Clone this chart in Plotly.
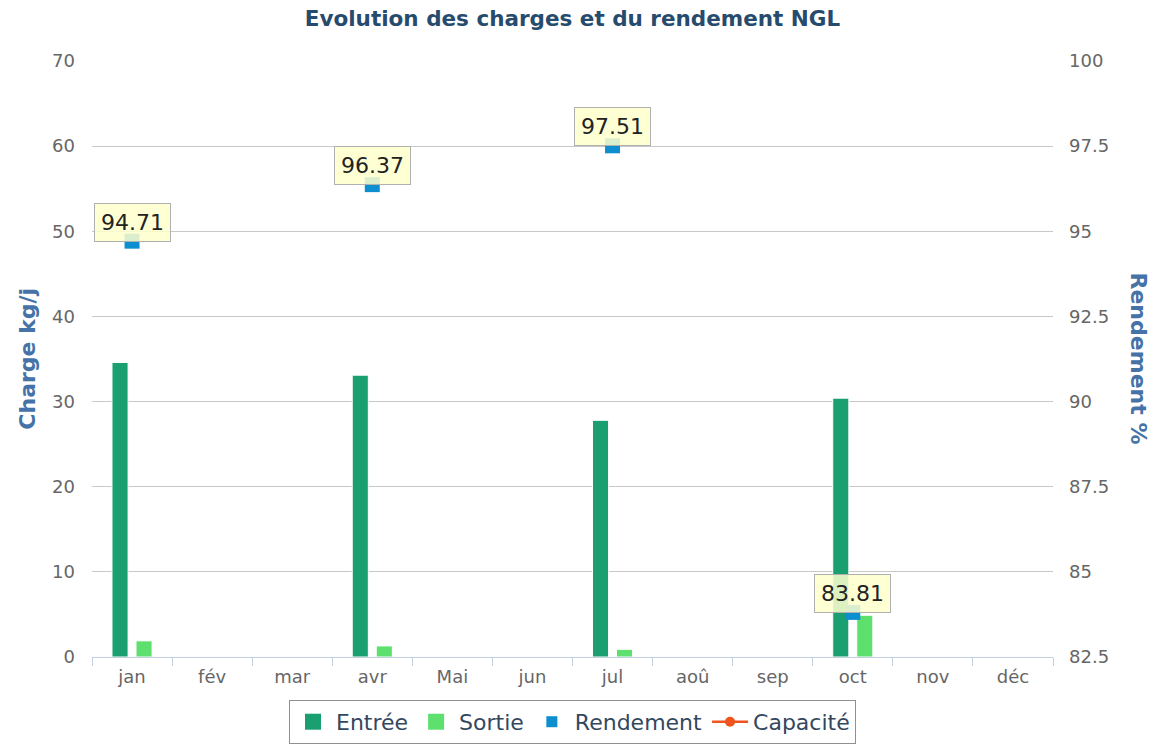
import plotly.graph_objects as go

months = ["jan", "fév", "mar", "avr", "Mai", "jun", "jul", "aoû", "sep", "oct", "nov", "déc"]
entree = [34.6, None, None, 33.1, None, None, 27.8, None, None, 30.4, None, None]
sortie = [1.9, None, None, 1.3, None, None, 0.9, None, None, 4.9, None, None]
rendement = [94.71, None, None, 96.37, None, None, 97.51, None, None, 83.81, None, None]
capacite = [None] * 12

FONT = "DejaVu Sans"
C_ENT, C_SOR, C_REN, C_CAP = "#1aa070", "#5de06e", "#0d8ecf", "#f0541e"

fig = go.Figure()
fig.add_trace(go.Bar(x=months, y=entree, name="Entrée", showlegend=False,
                     marker=dict(color=C_ENT, line=dict(color="white", width=1))))
fig.add_trace(go.Bar(x=months, y=sortie, name="Sortie", showlegend=False,
                     marker=dict(color=C_SOR, line=dict(color="white", width=1))))
fig.add_trace(go.Scatter(x=months, y=rendement, name="Rendement", yaxis="y2", mode="markers",
                         showlegend=False,
                         marker=dict(symbol="square", size=15, color=C_REN)))
# legend entries (Highcharts-style symbols)
empty = [None] * 12
fig.add_trace(go.Scatter(x=months, y=empty, name="Entrée", mode="markers",
                         marker=dict(symbol="square", size=21, color=C_ENT)))
fig.add_trace(go.Scatter(x=months, y=empty, name="Sortie", mode="markers",
                         marker=dict(symbol="square", size=21, color=C_SOR)))
fig.add_trace(go.Scatter(x=months, y=empty, name="Rendement", mode="markers",
                         marker=dict(symbol="square", size=11, color=C_REN)))
fig.add_trace(go.Scatter(x=months, y=capacite, name="Capacité", yaxis="y2", mode="lines+markers",
                         line=dict(color=C_CAP, width=2.5),
                         marker=dict(symbol="circle", size=10, color=C_CAP)))

for m, r in zip(months, rendement):
    if r is not None:
        fig.add_annotation(x=m, y=r, yref="y2", text=f"{r:.2f}", showarrow=False,
                           yshift=19, bgcolor="rgba(255,255,204,0.85)",
                           bordercolor="#b0b0b0", borderwidth=1, borderpad=6,
                           font=dict(family=FONT, size=22, color="#222222"))

fig.add_annotation(x=-0.068, xref="paper", y=0.5, yref="paper", xanchor="center", yanchor="middle",
                   text="<b>Charge kg/j</b>", textangle=-90, showarrow=False,
                   font=dict(family=FONT, size=22, color="#4572a7"))
fig.add_annotation(x=1.09, xref="paper", y=0.5, yref="paper", xanchor="center", yanchor="middle",
                   text="<b>Rendement %</b>", textangle=90, showarrow=False,
                   font=dict(family=FONT, size=22, color="#4572a7"))

fig.update_layout(
    width=1159, height=749,
    margin=dict(l=92, r=106, t=61, b=92, autoexpand=False),
    paper_bgcolor="white", plot_bgcolor="white",
    title=dict(text="<b>Evolution des charges et du rendement NGL</b>", x=0.5, xanchor="center",
               xref="paper", y=0.975, yref="container", yanchor="middle",
               font=dict(family=FONT, size=21.5, color="#274b6d")),
    font=dict(family=FONT, size=18, color="#666666"),
    barmode="group", bargap=0.4, bargroupgap=0.33,
    showlegend=True,
    legend=dict(orientation="h", x=0.5, xanchor="center", y=-0.072, yanchor="top",
                bordercolor="#909090", borderwidth=1, bgcolor="white",
                font=dict(family=FONT, size=22, color="#33485e"),
                itemsizing="trace", itemwidth=36, tracegroupgap=0),
    xaxis=dict(type="category", categoryorder="array", categoryarray=months, automargin=False,
               range=[-0.5, 11.5], autorange=False,
               showline=True, linecolor="#c0d0e0", linewidth=1,
               ticks="outside", tickson="boundaries", ticklen=8, tickcolor="#c0d0e0",
               ticklabelstandoff=3,
               showgrid=False, tickfont=dict(size=18, color="#666666")),
    yaxis=dict(range=[0, 70], dtick=10, showgrid=True, gridcolor="#c8c8c8", gridwidth=1,
               zeroline=False, showline=False, ticks="", ticklabelstandoff=16, automargin=False,
               tickfont=dict(size=18, color="#666666")),
    yaxis2=dict(range=[82.5, 100], dtick=2.5, overlaying="y", side="right", showgrid=False,
                zeroline=False, showline=False, ticks="", ticklabelstandoff=15, automargin=False,
                tickfont=dict(size=18, color="#666666")),
)

fig.write_html("out.html", config={"displayModeBar": False},
               post_script="document.body.style.margin='0';")
